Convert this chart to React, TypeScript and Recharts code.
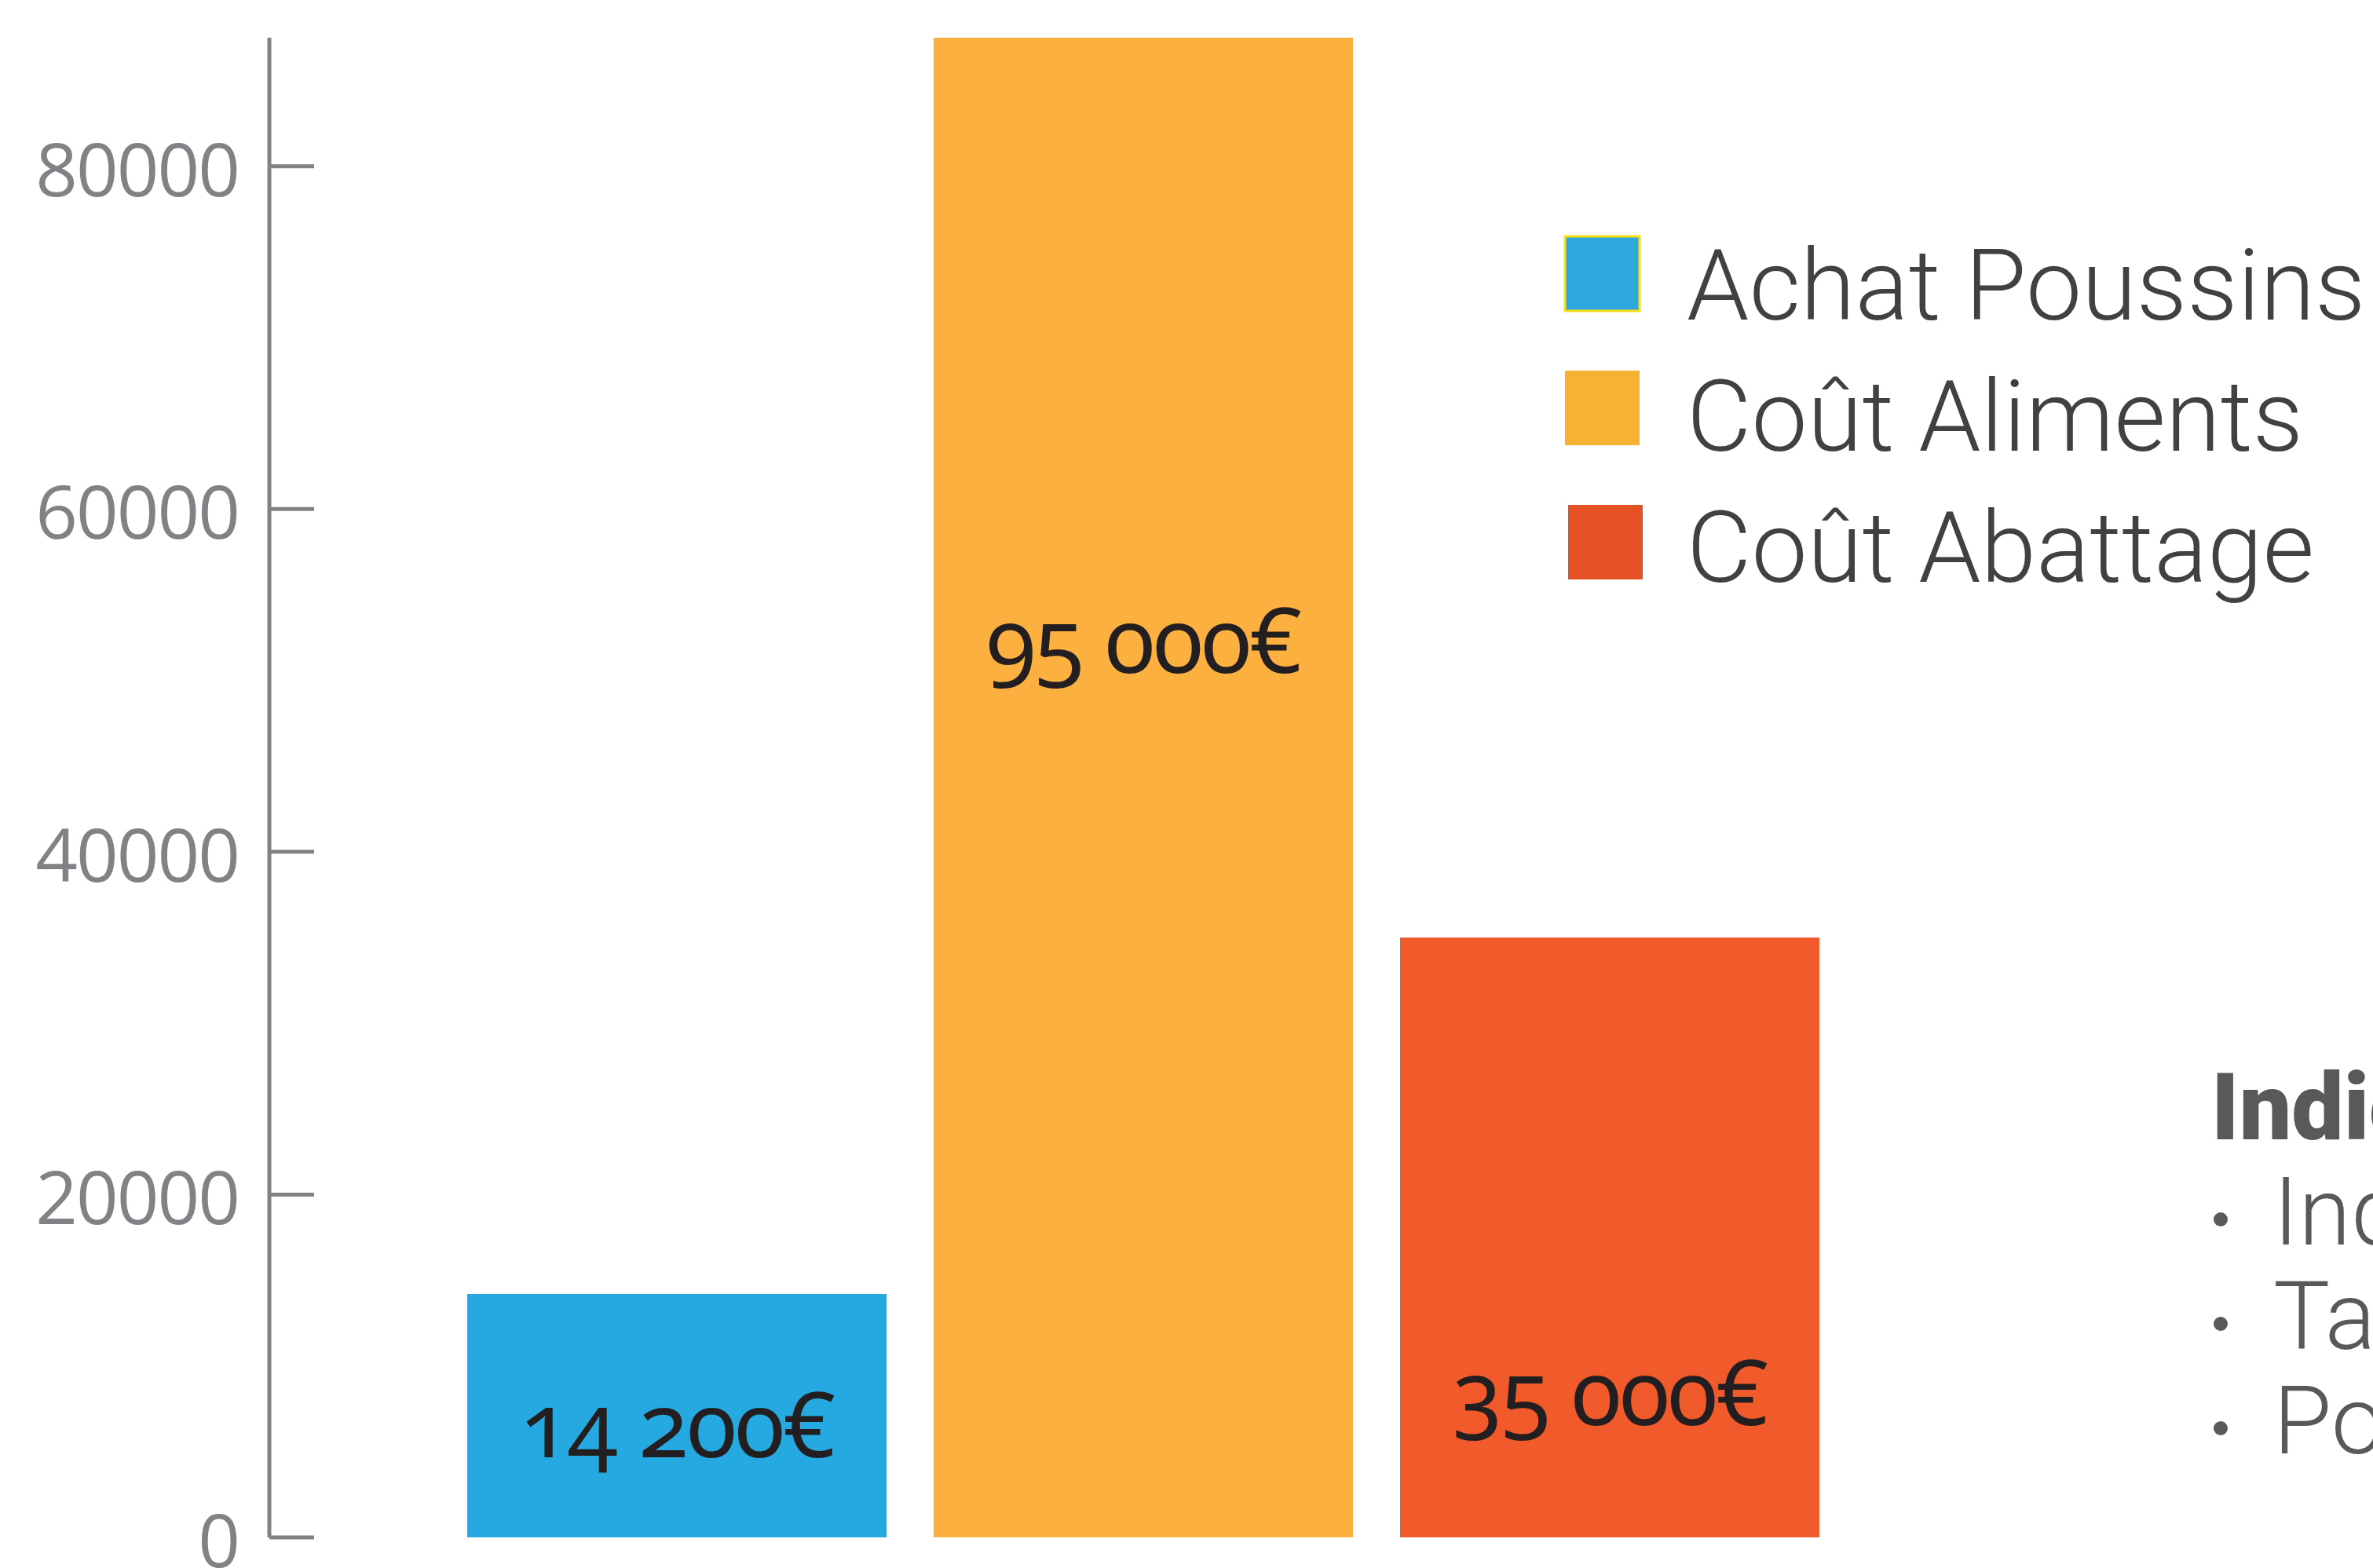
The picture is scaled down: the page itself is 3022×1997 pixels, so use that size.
import React from 'react'
import { BarChart, Bar, XAxis, YAxis, Legend, LabelList } from 'recharts'

// ── données ──
const categories = ['Coûts']
const seriesKeys = ['achat', 'aliments', 'abattage']
const seriesNames = ['Achat Poussins', 'Coût Aliments', 'Coût Abattage']
const seriesValues = [14200, 95000, 35000]
const yTicks = [0, 20000, 40000, 60000, 80000]
const yMax = 87500
const noteTitle = 'Indicateurs'
const noteItems = ['Indice de consommation', 'Taux de mortalité', 'Poids moyen']

const barColors = ['#26A9E0', '#FBB040', '#F15A2B']
const legendColors = ['#2DA8DC', '#F6B233', '#E55125']
const labelLift = [102, 1101, 143]

const data = categories.map(name => {
  const row: Record<string, string | number> = { name }
  seriesKeys.forEach((k, i) => { row[k] = seriesValues[i] })
  return row
})

const fmtEuro = (v: number) => String(v).replace(/\B(?=(\d{3})+(?!\d))/g, ' ') + '€'

// ── graduation Y (tiret vers l'intérieur) ──
function YTick({ x, y, payload }: any) {
  return (
    <g>
      <text x={x} y={y} dy={38} textAnchor="end" fill="#808285" fontSize={94}
        fontFamily="'Open Sans', sans-serif" letterSpacing={-2}>{payload.value}</text>
      <line x1={x + 39} x2={x + 96} y1={y} y2={y} stroke="#808285" strokeWidth={5} />
    </g>
  )
}

// ── étiquette de valeur ──
function ValueLabel({ x, y, width, height, value, lift }: any) {
  return (
    <text x={x + width / 2} y={y + height - lift} textAnchor="middle" fill="#231F20"
      fontSize={116} letterSpacing={-2}
      style={{ fontFamily: "'Noto Sans', sans-serif", fontVariantNumeric: 'oldstyle-nums', fontFeatureSettings: '"onum"' }}>
      {fmtEuro(value)}
    </text>
  )
}

// ── légende ──
function LegendBox({ payload }: any) {
  const items = [...(payload || [])].sort(
    (a: any, b: any) => seriesNames.indexOf(a.value) - seriesNames.indexOf(b.value))
  return (
    <svg width={1032} height={470} style={{ overflow: 'visible' }}>
      {items.map((p: any, i: number) => (
        <g key={p.value}>
          <rect x={i === 2 ? 7 : 3} y={6 + i * 171} width={95} height={95} fill={legendColors[i]}
            stroke={i === 0 ? '#FFDD15' : 'none'} strokeWidth={3} />
          <text x={158} y={112 + i * 167} fill="#414042" fontSize={127} fontWeight={300}
            fontFamily="Roboto, sans-serif">{p.value}</text>
        </g>
      ))}
    </svg>
  )
}

export default function App() {
  return (
    <div style={{ position: 'relative', width: 3022, height: 1997, overflow: 'hidden', background: '#fff' }}>
      <style>{'body{margin:0}'}</style>
      <BarChart width={3022} height={1997} data={data} barSize={534} barGap={60}
        margin={{ top: 48, right: 636, bottom: 39, left: 0 }}>
        <XAxis dataKey="name" tick={false} tickLine={false} height={0}
          padding={{ left: 183, right: 0 }}
          axisLine={{ stroke: '#8A8B8E', strokeWidth: 5 }} />
        <YAxis width={343} domain={[0, yMax]} ticks={yTicks} allowDataOverflow
          tickSize={0} tickMargin={39} tickLine={false} tick={<YTick />}
          axisLine={{ stroke: '#808285', strokeWidth: 5 }} />
        <Legend layout="vertical" align="center" verticalAlign="middle" itemSorter={null as any}
          wrapperStyle={{ left: 1990, top: 295, width: 1032, height: 470 }}
          content={<LegendBox />} />
        {seriesKeys.map((k, i) => (
          <Bar key={k} dataKey={k} name={seriesNames[i]} fill={barColors[i]} isAnimationActive={false}>
            <LabelList dataKey={k} content={(p: any) => <ValueLabel {...p} lift={labelLift[i]} />} />
          </Bar>
        ))}
      </BarChart>
      <svg width={3022} height={1997} style={{ position: 'absolute', left: 0, top: 0, pointerEvents: 'none' }}>
        <text x={2816} y={1451} fill="#58595B" fontSize={118} fontWeight={900}
          fontFamily="Roboto, sans-serif">{noteTitle}</text>
        {noteItems.map((t, i) => (
          <g key={t}>
            <circle cx={2828} cy={1553 + i * 133} r={9} fill="#58595B" />
            <text x={2895} y={1585 + i * 133} fill="#58595B" fontSize={121} fontWeight={300}
              fontFamily="Roboto, sans-serif">{t}</text>
          </g>
        ))}
      </svg>
    </div>
  )
}
